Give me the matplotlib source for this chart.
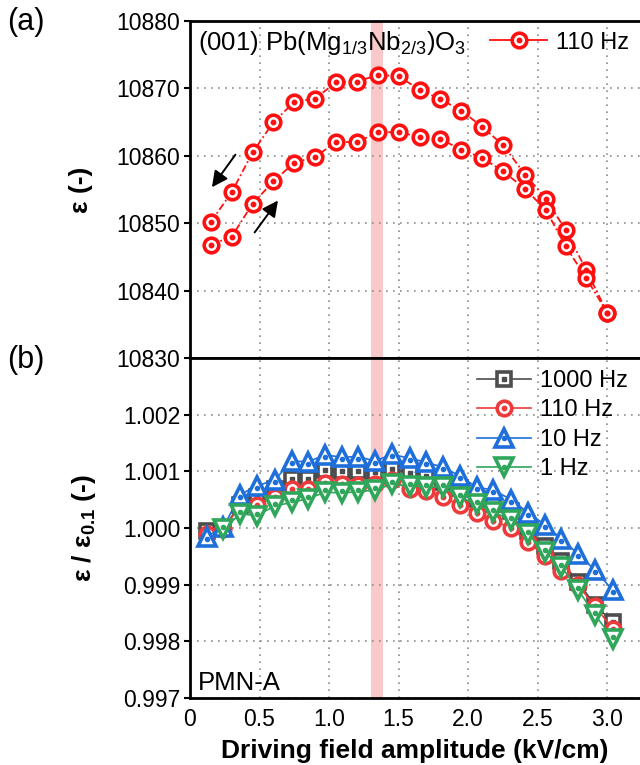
import numpy as np
import matplotlib
matplotlib.use("Agg")
import matplotlib.pyplot as plt
from matplotlib.lines import Line2D
from matplotlib.legend_handler import HandlerTuple

plt.rcParams['font.family'] = ['Liberation Sans', 'DejaVu Sans']
plt.rcParams['mathtext.fontset'] = 'custom'
plt.rcParams['mathtext.rm'] = 'Liberation Sans'
plt.rcParams['mathtext.it'] = 'Liberation Sans:italic'
plt.rcParams['mathtext.bf'] = 'Liberation Sans:bold'

# ---------------- data: panel (a) ----------------
field_a = [0.15, 0.30, 0.45, 0.60, 0.75, 0.90, 1.05, 1.20, 1.35, 1.50,
           1.65, 1.80, 1.95, 2.10, 2.25, 2.41, 2.56, 2.70, 2.85, 3.00]
eps_down = [10850.2, 10854.6, 10860.5, 10865.0, 10868.0, 10868.5, 10870.9, 10871.0,
            10872.0, 10871.8, 10869.8, 10868.4, 10866.7, 10864.3, 10861.6, 10857.2,
            10853.6, 10849.0, 10843.0, 10836.7]
eps_up = [10846.8, 10848.0, 10852.9, 10856.2, 10859.0, 10859.8, 10862.1, 10862.0,
          10863.5, 10863.5, 10862.8, 10862.5, 10860.9, 10859.7, 10857.7, 10855.1,
          10851.9, 10846.6, 10841.8, 10836.7]

# ---------------- data: panel (b) ----------------
field_b = [0.12, 0.24, 0.36, 0.48, 0.61, 0.73, 0.85, 0.97, 1.09, 1.21,
           1.33, 1.45, 1.58, 1.70, 1.82, 1.94, 2.06, 2.18, 2.31, 2.43,
           2.55, 2.67, 2.79, 2.91, 3.04]
r_1000 = [0.99994, 1.00000, 1.00041, 1.00054, 1.00068, 1.00086, 1.00086, 1.00102,
          1.00101, 1.00100, 1.00098, 1.00104, 1.00097, 1.00091, 1.00082, 1.00070,
          1.00052, 1.00042, 1.00030, 0.99994, 0.99968, 0.99941, 0.99905, 0.99864,
          0.99834]
r_110 = [0.99990, 0.99999, 1.00038, 1.00041, 1.00055, 1.00068, 1.00068, 1.00079,
         1.00078, 1.00076, 1.00077, 1.00084, 1.00068, 1.00065, 1.00055, 1.00040,
         1.00027, 1.00013, 1.00000, 0.99975, 0.99951, 0.99924, 0.99899, 0.99862,
         0.99822]
r_10 = [0.99985, 1.00001, 1.00059, 1.00074, 1.00085, 1.00118, 1.00117, 1.00129,
        1.00125, 1.00126, 1.00118, 1.00130, 1.00123, 1.00116, 1.00107, 1.00092,
        1.00072, 1.00067, 1.00050, 1.00027, 1.00006, 0.99981, 0.99954, 0.99926,
        0.99890]
field_b1 = field_b[1:]
r_1 = [0.99998, 1.00025, 1.00022, 1.00039, 1.00045, 1.00052, 1.00063, 1.00062,
       1.00064, 1.00067, 1.00077, 1.00074, 1.00073, 1.00072, 1.00054, 1.00042,
       1.00028, 1.00014, 0.99989, 0.99958, 0.99932, 0.99891, 0.99847, 0.99805]

labels_b = ['1000 Hz', '110 Hz', '10 Hz', '1 Hz']
band = (1.30, 1.385)

# ---------------- figure ----------------
fig = plt.figure(figsize=(6.4, 7.65), dpi=100)
L, R = 190 / 640, 1.0
axa = fig.add_axes([L, 1 - 358 / 765, R - L, (358 - 21) / 765])
axb = fig.add_axes([L, 1 - 698 / 765, R - L, (698 - 358) / 765])

FS = 16.5    # tick labels
FL = 17      # legends
FT = 18.5    # in-panel text
FB = 19      # axis labels (bold)
grid_kw = dict(color='#8c8c8c', lw=1.2, linestyle=(0, (1, 3.2)))

for ax in (axa, axb):
    ax.set_xlim(0, 3.235)
    ax.spines['right'].set_visible(False)
    for s in ('left', 'top', 'bottom'):
        ax.spines[s].set_linewidth(2.0)
    ax.tick_params(axis='y', direction='out', length=4, width=1.5, pad=3, labelsize=FS)
    ax.tick_params(axis='x', length=0, pad=7, labelsize=FS)
    ax.set_xticks([0, 0.5, 1.0, 1.5, 2.0, 2.5, 3.0])
    ax.grid(True, **grid_kw)
    ax.set_axisbelow(True)
    ax.axvspan(band[0], band[1], facecolor='#f9c9c9', edgecolor='none', zorder=0.5)

tuple_handler = {tuple: HandlerTuple(ndivide=1, pad=0)}

# ---- panel (a)
red = '#ff1010'
axa.set_ylim(10830, 10880)
axa.set_yticks([10830, 10840, 10850, 10860, 10870, 10880])
axa.tick_params(axis='x', labelbottom=False)
mk = dict(marker='o', ms=10.5, mfc='white', mec=red, mew=2.6)
dash = (0, (4, 1.6, 1, 1.6))
for ys in (eps_down, eps_up):
    axa.plot(field_a, ys, color=red, lw=1.3, linestyle=dash, zorder=3, **mk)
    axa.plot(field_a, ys, linestyle='none', marker='o', ms=3.2, color=red, zorder=4)
axa.annotate('', xy=(0.146, 10855.0), xytext=(0.338, 10860.5),
             arrowprops=dict(arrowstyle='-|>', color='k', lw=1.4, mutation_scale=24))
axa.annotate('', xy=(0.644, 10853.7), xytext=(0.453, 10848.3),
             arrowprops=dict(arrowstyle='-|>', color='k', lw=1.4, mutation_scale=24))
axa.text(0.018, 0.935, r'(001) Pb(Mg$_{1/3}$Nb$_{2/3}$)O$_3$', transform=axa.transAxes,
         fontsize=FT, va='center', ha='left')
h_line = Line2D([], [], color=red, lw=1.3, **mk)
h_dot = Line2D([], [], linestyle='none', marker='o', ms=3.2, color=red)
axa.legend([(h_line, h_dot)], ['110 Hz'], handler_map=tuple_handler,
           loc='upper right', bbox_to_anchor=(1.0, 1.0), frameon=False, fontsize=FL,
           handlelength=2.4, handletextpad=0.4, borderaxespad=0.25, borderpad=0.2)
axa.set_ylabel('ε (-)', fontsize=FB, fontweight='bold')
axa.yaxis.set_label_coords(-0.215, 0.5)

# ---- panel (b)
axb.set_ylim(0.997, 1.003)
axb.set_yticks([0.997, 0.998, 0.999, 1.000, 1.001, 1.002])
axb.set_yticklabels(['0.997', '0.998', '0.999', '1.000', '1.001', '1.002'])
axb.set_xticklabels(['0', '0.5', '1.0', '1.5', '2.0', '2.5', '3.0'])

px = 0.006 / 340.0  # data units per pixel in panel (b)
styles = [
    (field_b, r_1000, '#4d4d4d', 's', 9.5, 's', 3.0, 0.0),
    (field_b, r_110, '#ee3a3a', 'o', 10.5, 'o', 3.2, 0.0),
    (field_b, r_10, '#1f6fdb', '^', 12.5, 'o', 3.0, -2.0),
    (field_b1, r_1, '#2fa65a', 'v', 12.5, 'o', 3.0, 2.0),
]
handles = []
for i, (xs, ys, c, m, ms, cm, cms, doff) in enumerate(styles):
    kw = dict(marker=m, ms=ms, mfc='white', mec=c, mew=2.6)
    axb.plot(xs, ys, color=c, lw=1.2, zorder=3 + i, **kw)
    yc = np.array(ys) + doff * px
    axb.plot(xs, yc, linestyle='none', marker=cm, ms=cms, color=c, zorder=3.5 + i)
    hl = Line2D([], [], color=c, lw=1.2, **kw)
    hd = Line2D([], [], linestyle='none', marker=cm, ms=cms, color=c)
    handles.append((hl, hd))
axb.legend(handles, labels_b, handler_map=tuple_handler,
           loc='upper right', bbox_to_anchor=(1.0, 1.0), frameon=False, fontsize=FL,
           handlelength=2.3, handletextpad=0.4, borderaxespad=0.3, borderpad=0.2,
           labelspacing=0.32)
axb.text(0.018, 0.045, 'PMN-A', transform=axb.transAxes, fontsize=FT, va='center', ha='left')
axb.set_ylabel(r'ε / ε$\mathbf{_{0.1}}$ (-)', fontsize=FB, fontweight='bold')
axb.yaxis.set_label_coords(-0.205, 0.5)
axb.set_xlabel('Driving field amplitude (kV/cm)', fontsize=FB, fontweight='bold', labelpad=6)

fig.text(7 / 640, 1 - 22 / 765, '(a)', fontsize=22, va='center', ha='left')
fig.text(7 / 640, 1 - 360 / 765, '(b)', fontsize=22, va='center', ha='left')

fig.savefig('out.png', dpi=100)
